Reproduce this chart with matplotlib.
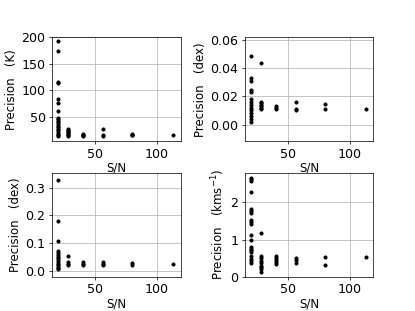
import matplotlib
matplotlib.use("Agg")
import matplotlib.pyplot as plt
import numpy as np

# signal-to-noise levels
sn_levels = [20, 28.3, 40, 56.6, 80, 113]

# precision values at each S/N level
teff = [
    [193, 174, 115, 113, 84, 75, 60, 48, 45, 42, 39, 36, 33, 30, 27, 24, 21, 18, 15, 13],
    [27, 25, 23, 21, 19, 17, 15, 13],
    [18, 16, 15, 13],
    [26, 16, 14],
    [18, 16, 15],
    [16],
]
logg = [
    [0.0488, 0.0328, 0.0307, 0.0246, 0.0232, 0.018, 0.016, 0.014, 0.012, 0.010,
     0.008, 0.006, 0.004, 0.002],
    [0.0434, 0.016, 0.015, 0.014, 0.013, 0.012, 0.011],
    [0.013, 0.012, 0.011],
    [0.0159, 0.0108, 0.010],
    [0.0145, 0.011],
    [0.0111],
]
feh = [
    [0.329, 0.181, 0.106, 0.072, 0.065, 0.058, 0.05, 0.045, 0.038, 0.03, 0.025,
     0.02, 0.015, 0.01, 0.005],
    [0.054, 0.03, 0.025, 0.02],
    [0.03, 0.025, 0.022],
    [0.03, 0.025, 0.022],
    [0.028, 0.022],
    [0.025],
]
vsini = [
    [2.67, 2.62, 2.58, 2.28, 1.83, 1.78, 1.72, 1.52, 1.47, 1.42, 1.12, 0.99,
     0.79, 0.75, 0.71, 0.66, 0.55, 0.49, 0.43, 0.37],
    [1.18, 0.55, 0.5, 0.42, 0.36, 0.3, 0.25, 0.2, 0.13],
    [0.55, 0.5, 0.45, 0.4, 0.35],
    [0.5, 0.45, 0.37],
    [0.53, 0.33],
    [0.53],
]

panels = [
    (teff, r"Precision   (K)", (3, 200)),
    (logg, r"Precision   (dex)", (-0.012, 0.062)),
    (feh, r"Precision   (dex)", (-0.022, 0.355)),
    (vsini, r"Precision   (kms$^{-1}$)", (0, 2.8)),
]

plt.rcParams["axes.labelsize"] = 13
plt.rcParams["xtick.labelsize"] = 14
plt.rcParams["ytick.labelsize"] = 14

fig, axes = plt.subplots(2, 2, figsize=(415 / 65, 311 / 65))
plt.subplots_adjust(wspace=0.5, hspace=0.3)

for ax, (data, label, ylim) in zip(axes.flat, panels):
    for sn, vals in zip(sn_levels, data):
        ax.plot(np.full(len(vals), sn), vals, "k.", markersize=7)
    ax.set_ylim(ylim)
    ax.set_xlim(15, 119)
    ax.set_xticks([50, 100])
    ax.set_xlabel("S/N", labelpad=1)
    ax.set_ylabel(label)
    ax.grid(True)

axes[0, 0].set_yticks([50, 100, 150, 200])
axes[0, 1].set_yticks([0.0, 0.02, 0.04, 0.06])
axes[1, 0].set_yticks([0.0, 0.1, 0.2, 0.3])
axes[1, 1].set_yticks([0, 1, 2])

plt.savefig("out.png", dpi=65)
